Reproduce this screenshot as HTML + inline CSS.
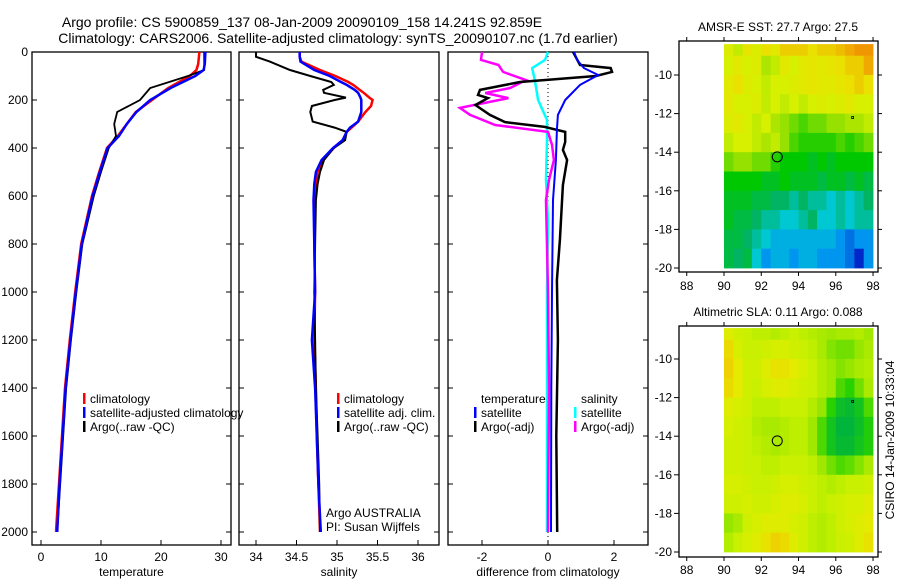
<!DOCTYPE html>
<html><head><meta charset="utf-8">
<style>
html,body{margin:0;padding:0;background:#fff;}
svg{display:block;font-family:"Liberation Sans",sans-serif;}
text{font-size:12px;fill:#000;}
</style></head>
<body>
<svg id="fig" width="900" height="580" viewBox="0 0 900 580" xmlns="http://www.w3.org/2000/svg">
<text x="302" y="27" text-anchor="middle" style="font-size:14px">Argo profile: CS 5900859_137 08-Jan-2009 20090109_158 14.241S 92.859E</text>
<text x="338" y="43" text-anchor="middle" style="font-size:14px">Climatology: CARS2006. Satellite-adjusted climatology: synTS_20090107.nc (1.7d earlier)</text>
<g id="g1"></g>
<g id="g2"></g>
<g id="g3"></g>
<g id="m1"></g>
<g id="m2"></g>
<text transform="translate(894,440) rotate(-90)" text-anchor="middle">CSIRO 14-Jan-2009 10:33:04</text>
</svg>
<script>
// ---------- data ----------
const depthTicks=[0,200,400,600,800,1000,1200,1400,1600,1800,2000];
const tempTicks=[0,10,20,30];
const salTicks=[34,34.5,35,35.5,36];
const salTickLabels=["34","34.5","35","35.5","36"];
const diffTicks=[-2,0,2];
const tDepth=[0,50,75,100,150,200,250,300,350,400,500,600,800,1000,1200,1400,1600,1800,2000];
const tClim=[26.4,26.2,25.9,24.8,21.2,18.5,15.8,14.3,12.8,11.0,9.7,8.5,6.7,5.7,4.8,4.0,3.5,3.0,2.5];
const tSat=[27.4,27.3,27.1,25.7,21.6,18.2,15.9,14.3,13.0,11.1,9.8,8.6,6.8,5.8,4.9,4.1,3.6,3.1,2.7];
const tArgo=[27.2,27.2,27.2,24.5,18.2,16.5,12.7,12.2,12.5,11.3,10.0,8.8,6.9,5.9,5.0,4.2,3.7,3.2,2.7];
const sDepth=[0,20,40,75,100,125,137,158,170,190,200,225,250,290,315,333,367,400,450,500,550,617,800,1000,1200,1400,1600,1800,2000];
const sClim=[34.54,34.54,34.56,34.79,34.98,35.14,35.2,35.28,35.33,35.40,35.44,35.42,35.35,35.26,35.18,35.12,35.07,34.96,34.82,34.76,34.74,34.73,34.72,34.73,34.72,34.74,34.75,34.77,34.79];
const sSat=[34.54,34.54,34.55,34.72,34.91,35.05,35.12,35.22,35.26,35.29,35.30,35.30,35.30,35.26,35.16,35.12,35.07,34.95,34.81,34.74,34.72,34.71,34.72,34.73,34.69,34.73,34.75,34.77,34.80];
const sArgo=[34.0,34.0,34.17,34.42,34.67,34.93,34.96,34.83,34.84,35.11,34.97,34.69,34.67,34.70,34.97,35.12,35.10,34.96,34.84,34.79,34.76,34.74,34.73,34.72,34.73,34.74,34.76,34.78,34.79];
const dTArgoDepth=[0,54,67,83,100,125,158,179,192,221,262,292,312,333,375,408,450,554,783,950,1200,1600,2000];
const dTArgo=[0.76,0.97,1.9,1.94,1.45,-0.85,-2.06,-2.12,-1.82,-2.2,-1.76,-1.3,-0.1,0.52,0.52,0.45,0.58,0.45,0.36,0.27,0.3,0.25,0.28];
const dSArgoDepth=[0,33,54,83,117,150,171,192,233,262,304,333,387,450,533,617,1000,1400,2000];
const dSArgo=[-2.0,-2.03,-1.5,-1.36,-0.67,-1.15,-1.9,-1.2,-2.67,-2.36,-1.6,0.0,0.12,0.18,0.03,-0.06,0.0,0.03,0.0];
const dTSatDepth=[0,33,67,96,137,200,262,325,450,617,1000,1400,2000];
const dTSat=[0.79,0.88,1.09,1.52,0.97,0.52,0.3,0.27,0.24,0.15,0.12,0.1,0.09];
const dSSatDepth=[0,33,67,117,200,283,367,533,700,1000,1400,2000];
const dSSat=[0.0,-0.09,-0.48,-0.4,-0.3,-0.03,-0.03,-0.06,0.0,-0.03,-0.03,-0.03];
const mapLonTicks=[88,90,92,94,96,98];
const mapLatTicks=[-10,-12,-14,-16,-18,-20];
const sstRows=[
[28.2,28.0,28.4,28.2,28.5,28.3,28.6,28.6,28.6,28.5,28.6,28.6,28.7,28.8,28.9,28.9],
[28.1,28.3,28.1,28.2,27.9,28.0,28.3,28.1,28.3,28.4,28.3,28.4,28.5,28.6,28.6,28.8],
[28.3,28.5,28.2,28.1,28.0,28.1,28.1,28.2,28.3,28.4,28.3,28.3,28.4,28.5,28.6,28.5],
[28.3,28.1,28.1,28.2,28.0,28.1,28.0,28.1,28.0,28.1,28.2,28.1,28.2,28.3,28.1,28.1],
[28.2,28.3,28.1,28.0,28.1,27.9,27.8,27.7,27.6,27.7,27.7,27.8,27.8,27.9,27.9,28.0],
[28.0,28.1,28.1,28.0,27.9,28.0,27.8,27.6,27.5,27.5,27.5,27.5,27.6,27.5,27.6,27.7],
[27.7,27.8,27.8,27.7,27.7,27.5,27.4,27.4,27.4,27.3,27.4,27.3,27.4,27.4,27.4,27.4],
[27.4,27.4,27.4,27.4,27.3,27.3,27.4,27.3,27.3,27.3,27.2,27.3,27.3,27.2,27.3,27.2],
[27.3,27.3,27.3,27.2,27.2,27.1,27.1,27.0,27.1,27.0,27.0,26.9,27.0,26.9,27.0,27.1],
[27.3,27.2,27.2,27.1,27.0,27.0,26.9,26.9,27.0,27.1,26.9,26.9,27.0,26.9,27.0,27.0],
[27.2,27.2,27.1,27.0,26.9,26.8,26.8,26.8,26.8,26.8,26.8,26.8,26.7,26.6,26.7,26.7],
[27.2,27.1,27.2,26.9,26.7,26.8,26.8,26.7,26.8,26.8,26.7,26.7,26.7,26.6,26.4,26.7]];
const slaRows=[
[0.12,0.10,0.09,0.08,0.08,0.07,0.08,0.09,0.08,0.07,0.06,0.05,0.06,0.06,0.07,0.05],
[0.15,0.11,0.09,0.09,0.10,0.11,0.11,0.10,0.09,0.08,0.06,0.03,0.02,0.02,0.04,0.06],
[0.16,0.13,0.10,0.10,0.12,0.14,0.14,0.13,0.11,0.09,0.07,0.05,0.03,0.04,0.06,0.07],
[0.15,0.13,0.10,0.09,0.11,0.12,0.12,0.11,0.10,0.09,0.07,0.05,0.00,-0.02,0.02,0.06],
[0.12,0.11,0.10,0.08,0.08,0.08,0.09,0.09,0.09,0.07,0.04,-0.02,-0.06,-0.07,-0.05,0.00],
[0.11,0.10,0.09,0.07,0.06,0.06,0.07,0.08,0.08,0.05,0.00,-0.05,-0.08,-0.08,-0.06,-0.03],
[0.10,0.10,0.09,0.08,0.07,0.06,0.07,0.08,0.08,0.05,0.00,-0.05,-0.07,-0.07,-0.05,-0.03],
[0.10,0.10,0.09,0.09,0.08,0.08,0.09,0.09,0.09,0.08,0.05,0.02,0.00,0.01,0.03,0.06],
[0.11,0.11,0.10,0.09,0.09,0.10,0.11,0.11,0.10,0.09,0.08,0.07,0.08,0.09,0.09,0.10],
[0.10,0.10,0.11,0.10,0.10,0.11,0.12,0.12,0.11,0.09,0.08,0.09,0.10,0.11,0.11,0.12],
[0.04,0.06,0.10,0.11,0.12,0.12,0.12,0.11,0.10,0.08,0.07,0.08,0.10,0.11,0.12,0.13],
[0.07,0.09,0.11,0.12,0.14,0.16,0.15,0.12,0.10,0.08,0.07,0.08,0.09,0.10,0.12,0.14]];
// ---------- helpers ----------
const NS="http://www.w3.org/2000/svg";
function mk(p,tag,at){const e=document.createElementNS(NS,tag);for(const k in at)e.setAttribute(k,at[k]);p.appendChild(e);return e;}
const Y0=52,PPD=48/200;
function yD(d){return Y0+d*PPD;}
function poly(g,xs,ds,xf,col,w,name){
  const pts=xs.map((v,i)=>xf(v).toFixed(1)+","+yD(ds[i]).toFixed(1)).join(" ");
  const e=mk(g,"polyline",{points:pts,fill:"none",stroke:col,"stroke-width":w,"stroke-linejoin":"miter"});
  
  
}
function frame(g,x0,x1,ticks,labels,xf,xlabel,leftLabels){
  const b=mk(g,"rect",{x:x0,y:Y0,width:x1-x0,height:545-Y0,fill:"none",stroke:"#000","stroke-width":1.3});
  
  
  depthTicks.forEach(d=>{
    mk(g,"line",{x1:x0,x2:x0+5,y1:yD(d),y2:yD(d),stroke:"#000"});
    mk(g,"line",{x1:x1-5,x2:x1,y1:yD(d),y2:yD(d),stroke:"#000"});
    if(leftLabels){const t=mk(g,"text",{x:x0-4,y:yD(d)+4,"text-anchor":"end"});t.textContent=d;
      
      }
  });
  ticks.forEach((v,i)=>{
    const x=xf(v);
    mk(g,"line",{x1:x,x2:x,y1:545,y2:540,stroke:"#000"});
    const t=mk(g,"text",{x:x,y:561,"text-anchor":"middle"});t.textContent=labels[i];
    
    
  });
  const xl=mk(g,"text",{x:(x0+x1)/2,y:576,"text-anchor":"middle"});xl.textContent=xlabel;
  
  
}
function legend(g,x,y,items){
  items.forEach((it,i)=>{
    const yy=y+i*14;
    if(it[1]){mk(g,"rect",{x:x,y:yy-10,width:2.5,height:11,fill:it[1]});}
    const t=mk(g,"text",{x:x+7,y:yy});t.textContent=it[0];
    
    
  });
}
// ---------- panel 1 ----------
const g1=document.getElementById("g1");
const xT=v=>41+v*6;
frame(g1,32,231,tempTicks,tempTicks.map(String),xT,"temperature",true);
poly(g1,tClim,tDepth,xT,"#f00",2.5,"temp-climatology-line");
poly(g1,tArgo,tDepth,xT,"#000",1.8,"temp-argo-line");
poly(g1,tSat,tDepth,xT,"#00f",2.5,"temp-satellite-line");
legend(g1,83,403,[["climatology","#f00"],["satellite-adjusted climatology","#00f"],["Argo(..raw -QC)","#000"]]);
// ---------- panel 2 ----------
const g2=document.getElementById("g2");
const xS=v=>256+(v-34)*81;
frame(g2,239,439,salTicks,salTickLabels,xS,"salinity",false);
poly(g2,sClim,sDepth,xS,"#f00",2.5,"sal-climatology-line");
poly(g2,sArgo,sDepth,xS,"#000",2,"sal-argo-line");
poly(g2,sSat,sDepth,xS,"#00f",2.5,"sal-satellite-line");
legend(g2,337,403,[["climatology","#f00"],["satellite adj. clim.","#00f"],["Argo(..raw -QC)","#000"]]);
const a1=mk(g2,"text",{x:326,y:517});a1.textContent="Argo AUSTRALIA";


const a2=mk(g2,"text",{x:326,y:531});a2.textContent="PI: Susan Wijffels";


// ---------- panel 3 ----------
const g3=document.getElementById("g3");
const xDf=v=>548+v*33;
frame(g3,448,648,diffTicks,diffTicks.map(String),xDf,"difference from climatology",false);
mk(g3,"line",{x1:xDf(0),x2:xDf(0),y1:Y0,y2:545,stroke:"#000","stroke-dasharray":"1,3"});
poly(g3,dSSat,dSSatDepth,xDf,"#0ff",2.5,"diff-sal-satellite-line");
poly(g3,dSArgo,dSArgoDepth,xDf,"#f0f",2.5,"diff-sal-argo-line");
poly(g3,dTArgo,dTArgoDepth,xDf,"#000",2.5,"diff-temp-argo-line");
poly(g3,dTSat,dTSatDepth,xDf,"#00f",2,"diff-temp-satellite-line");
legend(g3,474,403,[["temperature",null],["satellite","#00f"],["Argo(-adj)","#000"]]);
legend(g3,574,403,[["salinity",null],["satellite","#0ff"],["Argo(-adj)","#f0f"]]);
// ---------- maps ----------
function lerpC(stops,v){
  if(v<=stops[0][0])return stops[0][1];
  for(let i=1;i<stops.length;i++){if(v<=stops[i][0]){const a=stops[i-1],b=stops[i],f=(v-a[0])/(b[0]-a[0]);
    return [0,1,2].map(k=>Math.round(a[1][k]+(b[1][k]-a[1][k])*f));}}
  return stops[stops.length-1][1];
}
function cstr(c){return "rgb("+c.join(",")+")";}
const sstStops=[[26.4,[0,40,200]],[26.7,[0,150,240]],[26.9,[0,200,210]],[27.1,[0,180,100]],[27.4,[0,200,0]],[27.8,[150,225,0]],[28.1,[215,240,0]],[28.5,[235,225,0]],[28.9,[240,150,0]]];
const slaStops=[[-0.08,[0,180,60]],[-0.02,[40,210,0]],[0.04,[150,230,0]],[0.09,[200,240,0]],[0.13,[228,235,0]],[0.17,[240,200,0]]];
function drawMap(g,top,bottom,latm10,latm20,rows,stops,title,titleY,labelY,pre){
  const lx=v=>724+(v-90)*18.63;
  const ly=v=>latm10+(v+10)*(latm10-latm20)/10;
  const tt=mk(g,"text",{x:778,y:titleY,"text-anchor":"middle"});tt.textContent=title;
  
  
  const latTop=-8.4;
  rows.forEach((row,r)=>{
    const la0=r===0?latTop:-8-r, la1=-9-r;
    row.forEach((v,c)=>{
      const lo=90+c*0.5;
      const cell=mk(g,"rect",{x:lx(lo).toFixed(1),y:ly(la0).toFixed(1),width:(9.33+0.4).toFixed(2),height:(ly(la1)-ly(la0)+0.4).toFixed(1),fill:cstr(lerpC(stops,v))});
      
      
    });
  });
  const b=mk(g,"rect",{x:679,y:top,width:199,height:bottom-top,fill:"none",stroke:"#000","stroke-width":1.3});
  
  
  mapLonTicks.forEach(v=>{
    mk(g,"line",{x1:lx(v),x2:lx(v),y1:top-4,y2:top,stroke:"#000"});
    mk(g,"line",{x1:lx(v),x2:lx(v),y1:bottom,y2:bottom+4,stroke:"#000"});
    const t=mk(g,"text",{x:lx(v),y:labelY,"text-anchor":"middle"});t.textContent=v;
    
    
  });
  mapLatTicks.forEach(v=>{
    mk(g,"line",{x1:674,x2:679,y1:ly(v),y2:ly(v),stroke:"#000"});
    mk(g,"line",{x1:878,x2:882,y1:ly(v),y2:ly(v),stroke:"#000"});
    const t=mk(g,"text",{x:672,y:ly(v)+4,"text-anchor":"end"});t.textContent=v;
    
    
  });
  const m=mk(g,"circle",{cx:lx(92.859),cy:ly(-14.241),r:5,fill:"none",stroke:"#000"});
  
  
  mk(g,"rect",{x:lx(96.85),y:ly(-12.15),width:2,height:2,fill:"none",stroke:"#000","stroke-width":0.8});
}
drawMap(document.getElementById("m1"),41,272,75,268,sstRows,sstStops,"AMSR-E SST: 27.7 Argo: 27.5",31,290,"sst");
drawMap(document.getElementById("m2"),326,557,359,552,slaRows,slaStops,"Altimetric SLA: 0.11  Argo: 0.088",316,574,"sla");
</script>
</body></html>
